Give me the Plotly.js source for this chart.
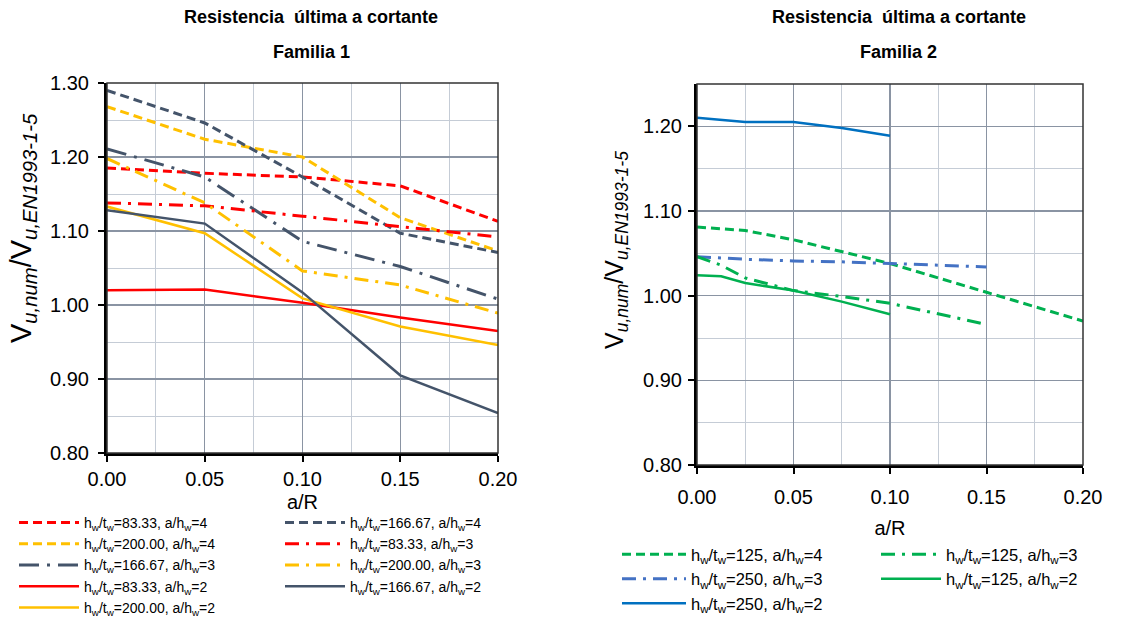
<!DOCTYPE html>
<html>
<head>
<meta charset="utf-8">
<script src="https://cdn.plot.ly/plotly-3.0.1.min.js"></script>
<style>html,body{margin:0;padding:0;background:#fff;}#chart{width:1126px;height:619px;}</style>
</head>
<body>
<div id="chart"></div>
<script>
// ---------- Familia 1 ----------
const xF1 = [0.00, 0.05, 0.10, 0.15, 0.20];
const f1_8333_a4  = [1.185, 1.178, 1.173, 1.161, 1.113];
const f1_16667_a4 = [1.290, 1.246, 1.173, 1.097, 1.071];
const f1_20000_a4 = [1.268, 1.224, 1.200, 1.118, 1.073];
const f1_8333_a3  = [1.138, 1.134, 1.120, 1.106, 1.092];
const f1_16667_a3 = [1.211, 1.173, 1.086, 1.052, 1.008];
const f1_20000_a3 = [1.198, 1.138, 1.046, 1.027, 0.989];
const f1_8333_a2  = [1.020, 1.021, 1.003, 0.983, 0.965];
const f1_16667_a2 = [1.128, 1.110, 1.017, 0.905, 0.854];
const f1_20000_a2 = [1.133, 1.097, 1.009, 0.971, 0.946];

// ---------- Familia 2 ----------
const x_125_a4 = [0.00, 0.025, 0.05, 0.075, 0.10, 0.15, 0.20];
const f2_125_a4 = [1.081, 1.077, 1.066, 1.052, 1.038, 1.004, 0.970];
const x_125_a3 = [0.00, 0.0125, 0.025, 0.05, 0.075, 0.10, 0.15];
const f2_125_a3 = [1.046, 1.036, 1.021, 1.006, 0.999, 0.991, 0.966];
const x_250_a3 = [0.00, 0.025, 0.05, 0.075, 0.10, 0.15];
const f2_250_a3 = [1.046, 1.043, 1.041, 1.040, 1.038, 1.034];
const x_125_a2 = [0.00, 0.0125, 0.025, 0.05, 0.075, 0.10];
const f2_125_a2 = [1.024, 1.023, 1.015, 1.006, 0.993, 0.978];
const x_250_a2 = [0.00, 0.025, 0.05, 0.075, 0.10];
const f2_250_a2 = [1.210, 1.205, 1.205, 1.198, 1.189];

const mainTitle = 'Resistencia  última a cortante';
const sub1 = 'Familia 1';
const sub2 = 'Familia 2';
const xTitle = 'a/R';
const yTitle = 'V<sub><i>u,num</i></sub>/V<sub><i>u,EN1993-1-5</i></sub>';
function lab(ht, ah) { return 'h<sub>w</sub>/t<sub>w</sub>=' + ht + ', a/h<sub>w</sub>=' + ah; }

const RED = '#ff0000', YEL = '#ffc000', GRY = '#44546a', GRN = '#00b050', BLU = '#0070c0', BLU2 = '#4472c4';
const DASH = '9px,5px';
const DDOT = '14px,7px,3px,7px';
const LDDOT = '20px,8px,3px,8px';

function tr(x, y, name, color, dash, width, xa, ya, leg) {
  return {x: x, y: y, name: name, type: 'scatter', mode: 'lines',
    line: {color: color, dash: dash, width: width},
    xaxis: xa, yaxis: ya, legend: leg, showlegend: true};
}

const data = [
  tr(xF1, f1_8333_a4,  lab('83.33', 4),  RED, DASH, 3, 'x', 'y', 'legend'),
  tr(xF1, f1_20000_a4, lab('200.00', 4), YEL, DASH, 3, 'x', 'y', 'legend'),
  tr(xF1, f1_16667_a3, lab('166.67', 3), GRY, LDDOT, 3, 'x', 'y', 'legend'),
  tr(xF1, f1_8333_a2,  lab('83.33', 2),  RED, 'solid', 2.5, 'x', 'y', 'legend'),
  tr(xF1, f1_20000_a2, lab('200.00', 2), YEL, 'solid', 2.5, 'x', 'y', 'legend'),
  tr(xF1, f1_16667_a4, lab('166.67', 4), GRY, DASH, 3, 'x', 'y', 'legend2'),
  tr(xF1, f1_8333_a3,  lab('83.33', 3),  RED, DDOT, 3, 'x', 'y', 'legend2'),
  tr(xF1, f1_20000_a3, lab('200.00', 3), YEL, DDOT, 3, 'x', 'y', 'legend2'),
  tr(xF1, f1_16667_a2, lab('166.67', 2), GRY, 'solid', 2.5, 'x', 'y', 'legend2'),

  tr(x_125_a4, f2_125_a4, lab('125', 4), GRN, DASH, 3, 'x2', 'y2', 'legend3'),
  tr(x_250_a3, f2_250_a3, lab('250', 3), BLU2, DDOT, 3, 'x2', 'y2', 'legend3'),
  tr(x_250_a2, f2_250_a2, lab('250', 2), BLU, 'solid', 2.5, 'x2', 'y2', 'legend3'),
  tr(x_125_a3, f2_125_a3, lab('125', 3), GRN, DDOT, 3, 'x2', 'y2', 'legend4'),
  tr(x_125_a2, f2_125_a2, lab('125', 2), GRN, 'solid', 2.5, 'x2', 'y2', 'legend4')
];

const FONT = 'Liberation Sans, Arial, sans-serif';
const tickFont = {family: FONT, size: 20, color: '#000'};

function xax(domain, anchor, labStandoff, titleStandoff) {
  return {domain: domain, anchor: anchor, range: [0, 0.2], dtick: 0.05, tick0: 0,
    tickformat: '.2f', tickfont: tickFont, showline: true, linewidth: 3, linecolor: '#000',
    ticks: 'outside', ticklen: 6, tickwidth: 2, tickcolor: '#000', ticklabelstandoff: labStandoff,
    showgrid: true, gridcolor: '#8a94a3', gridwidth: 1.2, zeroline: false,
    minor: {dtick: 0.025, showgrid: true, gridcolor: '#c5ccd6', gridwidth: 1},
    title: {text: xTitle, font: {family: FONT, size: 20, color: '#000'}, standoff: titleStandoff},
    fixedrange: true};
}
function yax(domain, anchor, range, labStandoff) {
  return {domain: domain, anchor: anchor, range: range, dtick: 0.1, tick0: 0.8,
    tickformat: '.2f', tickfont: tickFont, showline: true, linewidth: 3, linecolor: '#000',
    ticks: 'outside', ticklen: 6, tickwidth: 2, tickcolor: '#000', ticklabelstandoff: labStandoff,
    showgrid: true, gridcolor: '#8a94a3', gridwidth: 1.2, zeroline: false,
    minor: {dtick: 0.05, showgrid: true, gridcolor: '#c5ccd6', gridwidth: 1},
    fixedrange: true};
}

const W = 1126, H = 619;
const px = v => v / W, py = v => 1 - v / H;
function leg(x, y, size, iw) {
  return {orientation: 'v', x: px(x), y: py(y), xanchor: 'left', yanchor: 'top',
    itemwidth: iw, font: {family: FONT, size: size, color: '#000'},
    bgcolor: 'rgba(0,0,0,0)', traceorder: 'normal', borderwidth: 0};
}
function ann(text, x, y, size, angle) {
  return {text: text, xref: 'paper', yref: 'paper', x: px(x), y: py(y), showarrow: false,
    xanchor: 'center', yanchor: 'middle', textangle: angle || 0,
    font: {family: FONT, size: size, color: '#000'}};
}

const layout = {
  width: W, height: H,
  margin: {l: 0, r: 0, t: 0, b: 0, autoexpand: false},
  paper_bgcolor: '#fff', plot_bgcolor: '#fff',
  font: {family: FONT, color: '#000'},
  xaxis: xax([px(107), px(498)], 'y', 0, 6),
  yaxis: yax([py(453), py(83)], 'x', [0.8, 1.3], 5),
  xaxis2: xax([px(697), px(1083)], 'y2', 6, 14),
  yaxis2: yax([py(465), py(84)], 'x2', [0.8, 1.25], 2),
  legend: leg(14, 507, 14, 60),
  legend2: leg(280, 507, 14, 60),
  legend3: leg(617, 537, 16.5, 64),
  legend4: leg(876, 537, 16.5, 60),
  shapes: [
    {type: 'rect', xref: 'x domain', yref: 'y domain', x0: 0, x1: 1, y0: 0, y1: 1,
      line: {color: '#333', width: 1.5}, layer: 'above'},
    {type: 'rect', xref: 'x2 domain', yref: 'y2 domain', x0: 0, x1: 1, y0: 0, y1: 1,
      line: {color: '#333', width: 1.5}, layer: 'above'}
  ],
  annotations: [
    ann('<b>' + mainTitle + '</b>', 311, 17, 18),
    ann('<b>' + sub1 + '</b>', 311, 52, 18),
    ann('<b>' + mainTitle + '</b>', 899, 17, 18),
    ann('<b>' + sub2 + '</b>', 898, 52, 18),
    ann(yTitle, 23, 228, 29, -90),
    ann(yTitle, 616, 250, 25, -90)
  ]
};

Plotly.newPlot('chart', data, layout, {displayModeBar: false, staticPlot: true});
</script>
</body>
</html>
